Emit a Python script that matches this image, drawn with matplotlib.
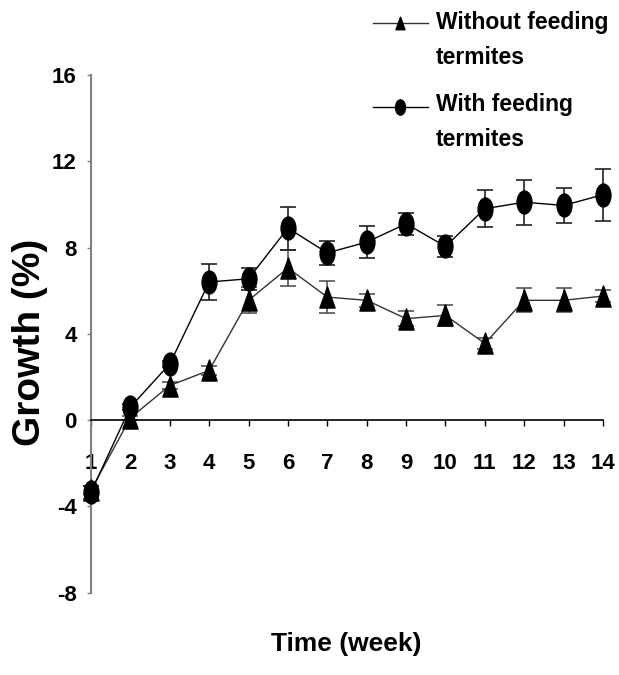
import numpy as np
import matplotlib
matplotlib.use('Agg')
import matplotlib.pyplot as plt
from matplotlib.path import Path
from matplotlib.transforms import Affine2D
from matplotlib.lines import Line2D

# growth (%) per week
weeks = np.arange(1, 15)
with_feeding = [-3.35, 0.6, 2.6, 6.4, 6.55, 8.9, 7.75, 8.25, 9.1, 8.05, 9.8, 10.1, 9.95, 10.45]
with_err = [0.3, 0.15, 0.15, 0.85, 0.5, 1.0, 0.55, 0.75, 0.5, 0.5, 0.85, 1.05, 0.8, 1.2]
without_feeding = [-3.25, 0.1, 1.6, 2.3, 5.55, 7.05, 5.7, 5.55, 4.7, 4.85, 3.55, 5.55, 5.55, 5.75]
without_err = [0.2, 0.1, 0.15, 0.2, 0.6, 0.85, 0.75, 0.3, 0.35, 0.5, 0.25, 0.55, 0.55, 0.3]
y_ticks = [-8, -4, 0, 4, 8, 12, 16]

plt.rcParams['font.family'] = ['Liberation Sans', 'DejaVu Sans']
plt.rcParams['font.weight'] = 'bold'
plt.rcParams['axes.unicode_minus'] = False

# tall ellipse and triangle markers like the excel ones
ellipse = Path.unit_circle().transformed(Affine2D().scale(0.65, 1))
tri = Path([(0, 1), (-0.72, -1), (0.72, -1), (0, 1)], closed=True)

fig = plt.figure(figsize=(6.19, 6.75), dpi=100)
ax = fig.add_axes([0.147, 0.1222, 0.8272, 0.7667])

ax.errorbar(weeks, without_feeding, yerr=without_err, fmt='none', ecolor='#555555',
            elinewidth=1.2, capsize=6, capthick=1.2, zorder=2, clip_on=False)
ax.plot(weeks, without_feeding, color='#333333', lw=1, marker=tri, ms=15.2,
        mfc='black', mec='black', zorder=3, clip_on=False)

ax.errorbar(weeks, with_feeding, yerr=with_err, fmt='none', ecolor='#222222',
            elinewidth=1.2, capsize=6, capthick=1.2, zorder=4, clip_on=False)
ax.plot(weeks, with_feeding, color='black', lw=1, marker=ellipse, ms=16.5,
        mfc='black', mec='black', zorder=5, clip_on=False)

ax.set_xlim(1, 14)
ax.set_ylim(-8, 16)
ax.set_xticks(weeks)
ax.set_yticks(y_ticks)
ax.spines['top'].set_visible(False)
ax.spines['right'].set_visible(False)
ax.spines['bottom'].set_position(('data', 0))
ax.spines['bottom'].set_color('black')
ax.spines['bottom'].set_linewidth(1.2)
ax.spines['left'].set_color('#808080')
ax.spines['left'].set_linewidth(1.5)
ax.tick_params(axis='x', direction='out', length=4.3, width=1, pad=19.5, labelsize=16)
ax.tick_params(axis='y', direction='out', length=3.2, width=1, color='#808080', pad=7, labelsize=16)

fig.text(30 / 619, 1 - 342 / 675, 'Growth (%)', rotation=90, ha='center', va='center',
         fontsize=28, fontweight='bold')
fig.text(346 / 619, 1 - 644 / 675, 'Time (week)', ha='center', va='center',
         fontsize=19, fontweight='bold')

# legend drawn by hand, handle sits on the first line of each label
fig.add_artist(Line2D([373 / 619, 428 / 619], [1 - 23 / 675, 1 - 23 / 675], color='#333333',
                      lw=1, transform=fig.transFigure))
fig.add_artist(Line2D([400 / 619], [1 - 23 / 675], marker=tri, ms=9, color='black',
                      transform=fig.transFigure))
fig.add_artist(Line2D([373 / 619, 428 / 619], [1 - 107 / 675, 1 - 107 / 675], color='black',
                      lw=1, transform=fig.transFigure))
fig.add_artist(Line2D([400 / 619], [1 - 107 / 675], marker=ellipse, ms=11, color='black',
                      transform=fig.transFigure))
fig.text(436 / 619, 1 - 23 / 675, 'Without feeding', ha='left', va='center', fontsize=16.5)
fig.text(436 / 619, 1 - 57 / 675, 'termites', ha='left', va='center', fontsize=16.5)
fig.text(436 / 619, 1 - 104 / 675, 'With feeding', ha='left', va='center', fontsize=16.5)
fig.text(436 / 619, 1 - 140 / 675, 'termites', ha='left', va='center', fontsize=16.5)

fig.savefig('out.png', dpi=100)
